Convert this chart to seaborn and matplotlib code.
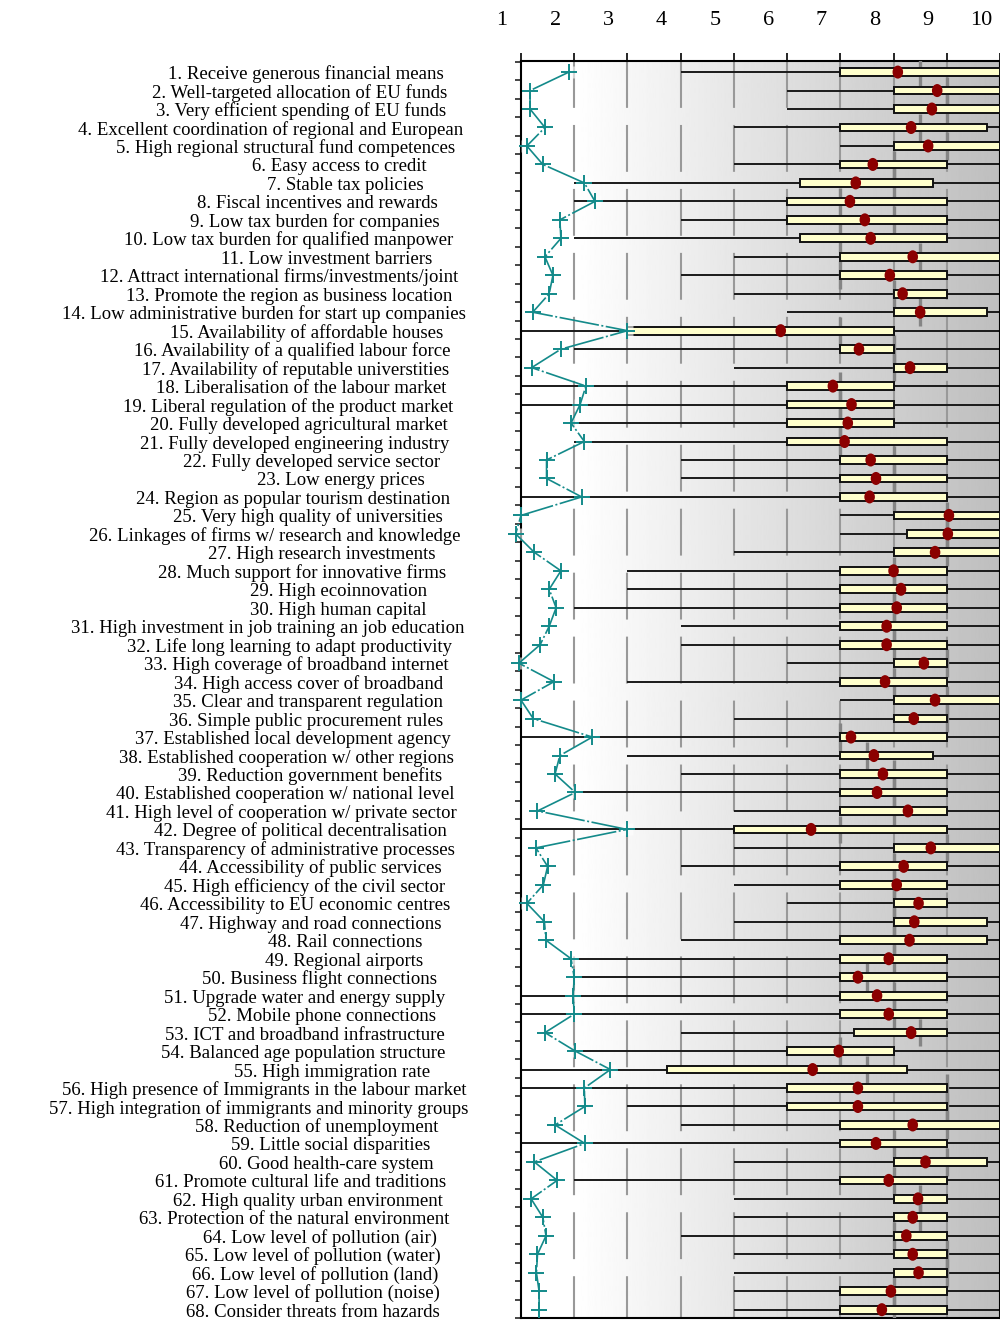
import numpy as np
import pandas as pd
import matplotlib
matplotlib.use("Agg")
import matplotlib.pyplot as plt
import matplotlib.transforms as mtransforms
from matplotlib.markers import MarkerStyle
import seaborn as sns

labels = [
    "1. Receive generous financial means",
    "2. Well-targeted allocation of EU funds",
    "3. Very efficient spending of EU funds",
    "4. Excellent coordination of regional and European",
    "5. High regional structural fund competences",
    "6. Easy access to credit",
    "7. Stable tax policies",
    "8. Fiscal incentives and rewards",
    "9. Low tax burden for companies",
    "10. Low tax burden for qualified manpower",
    "11. Low investment barriers",
    "12. Attract international firms/investments/joint",
    "13. Promote the region as business location",
    "14. Low administrative burden for start up companies",
    "15. Availability of affordable houses",
    "16. Availability of a qualified labour force",
    "17. Availability of reputable universtities",
    "18. Liberalisation of the labour market",
    "19. Liberal regulation of the product market",
    "20. Fully developed agricultural market",
    "21. Fully developed engineering industry",
    "22. Fully developed service sector",
    "23. Low energy prices",
    "24. Region as popular tourism destination",
    "25. Very high quality of universities",
    "26. Linkages of firms w/ research and knowledge",
    "27. High research investments",
    "28. Much support for innovative firms",
    "29. High ecoinnovation",
    "30. High human capital",
    "31. High investment in job training an job education",
    "32. Life long learning to adapt productivity",
    "33. High coverage of broadband internet",
    "34. High access cover of broadband",
    "35. Clear and transparent regulation",
    "36. Simple public procurement rules",
    "37. Established local development agency",
    "38. Established cooperation w/ other regions",
    "39. Reduction government benefits",
    "40. Established cooperation w/ national level",
    "41. High level of cooperation w/ private sector",
    "42. Degree of political decentralisation",
    "43. Transparency of administrative processes",
    "44. Accessibility of public services",
    "45. High efficiency of the civil sector",
    "46. Accessibility to EU economic centres",
    "47. Highway and road connections",
    "48. Rail connections",
    "49. Regional airports",
    "50. Business flight connections",
    "51. Upgrade water and energy supply",
    "52. Mobile phone connections",
    "53. ICT and broadband infrastructure",
    "54. Balanced age population structure",
    "55. High immigration rate",
    "56. High presence of Immigrants in the labour market",
    "57. High integration of immigrants and minority groups",
    "58. Reduction of unemployment",
    "59. Little social disparities",
    "60. Good health-care system",
    "61. Promote cultural life and traditions",
    "62. High quality urban environment",
    "63. Protection of the natural environment",
    "64. Low level of pollution (air)",
    "65. Low level of pollution (water)",
    "66. Low level of pollution (land)",
    "67. Low level of pollution (noise)",
    "68. Consider threats from hazards",
]

score_min = [4, 6, 6, 5, 7, 5, 2, 2, 4, 2, 5, 4, 5, 6, 1, 2, 5, 1, 1, 2,
             2, 4, 4, 1, 7, 7, 5, 3, 3, 2, 4, 4, 6, 3, 7, 5, 1, 3, 4, 2,
             5, 1, 5, 4, 5, 6, 5, 4, 2, 2, 1, 1, 4, 2, 1, 1, 3, 4, 1, 5,
             2, 5, 5, 4, 5, 5, 5, 5]
score_max = [10, 10, 10, 10, 10, 10, 10, 10, 10, 10, 10, 10, 10, 10, 10, 10, 10, 10, 10, 10,
             10, 10, 10, 10, 10, 10, 10, 10, 10, 10, 10, 10, 10, 10, 10, 10, 10, 10, 10, 10,
             10, 10, 10, 10, 10, 10, 10, 10, 10, 10, 10, 10, 10, 10, 10, 10, 10, 10, 10, 10,
             10, 10, 10, 10, 10, 10, 10, 10]
q1 = [7, 8, 8, 7, 8, 7, 6.25, 6, 6, 6.25, 7, 7, 8, 8, 3, 7, 8, 6, 6, 6,
      6, 7, 7, 7, 8, 8.25, 8, 7, 7, 7, 7, 7, 8, 7, 8, 8, 7, 7, 7, 7,
      7, 5, 8, 7, 7, 8, 8, 7, 7, 7, 7, 7, 7.25, 6, 3.75, 6, 6, 7, 7, 8,
      7, 8, 8, 8, 8, 8, 7, 7]
q3 = [10, 10, 10, 9.75, 10, 9, 8.75, 9, 9, 9, 10, 9, 9, 9.75, 8, 8, 9, 8, 8, 8,
      9, 9, 9, 9, 10, 10, 10, 9, 9, 9, 9, 9, 9, 9, 10, 9, 9, 8.75, 9, 9,
      9, 9, 10, 9, 9, 9, 9.75, 9.75, 9, 9, 9, 9, 9, 8, 8.25, 9, 9, 10, 9, 9.75,
      9, 9, 9, 9, 9, 9, 9, 9]
mean = [8.08, 8.82, 8.72, 8.33, 8.65, 7.61, 7.29, 7.18, 7.46, 7.57, 8.36, 7.93, 8.17, 8.5,
        5.88, 7.35, 8.31, 6.86, 7.21, 7.14, 7.08, 7.57, 7.67, 7.55, 9.04, 9.02, 8.78, 8.0,
        8.14, 8.06, 7.87, 7.87, 8.57, 7.84, 8.78, 8.38, 7.2, 7.63, 7.8, 7.69, 8.27, 6.45,
        8.7, 8.19, 8.06, 8.47, 8.39, 8.3, 7.91, 7.33, 7.69, 7.91, 8.33, 6.97, 6.48, 7.33,
        7.33, 8.36, 7.67, 8.6, 7.91, 8.46, 8.36, 8.24, 8.36, 8.47, 7.95, 7.78]
median = [8.5, 9, 9, 8.5, 9, 8, 8, 7, 8, 7, 8.5, 7, 8, 8.5, 7, 8, 8, 7, 7, 7,
          7, 8, 8, 8, 9, 9, 9, 8, 8, 8, 8, 8, 9, 8, 9, 9, 7, 7.5, 8, 8,
          8, 7, 9, 8, 8, 8, 8, 8, 8, 7.5, 8, 8, 8.5, 7, 7.5, 9, 9, 9, 8, 9,
          8, 8.5, 8.5, 8, 9, 9, 8, 8]
std_dev = [1.90, 1.17, 1.17, 1.45, 1.11, 1.41, 2.19, 2.39, 1.73, 1.75, 1.45, 1.60, 1.53,
           1.22, 3.0, 1.75, 1.2, 2.22, 2.11, 1.94, 2.19, 1.48, 1.48, 2.14, 1.0, 0.9, 1.25,
           1.75, 1.53, 1.66, 1.53, 1.36, 0.96, 1.62, 1.0, 1.23, 2.34, 1.73, 1.64, 2.02, 1.31,
           2.99, 1.28, 1.5, 1.42, 1.11, 1.44, 1.47, 1.94, 2.0, 1.98, 2.0, 1.45, 2.02, 2.68,
           2.19, 2.2, 1.64, 2.2, 1.25, 1.68, 1.19, 1.41, 1.47, 1.31, 1.29, 1.34, 1.34]

df = pd.DataFrame({
    "label": labels, "lo": score_min, "hi": score_max, "q1": q1, "q3": q3,
    "mean": mean, "median": median, "sd": std_dev,
})
df["row"] = np.arange(1, len(df) + 1)

sns.set_theme(style="white")
plt.rcParams["font.family"] = ["Liberation Serif", "DejaVu Serif"]

fig = plt.figure(figsize=(10, 13.2), dpi=100)
ax = fig.add_axes([0.521, 2 / 1320, 0.479, 1257 / 1320])
y_top, y_bot = 0.4, 68.45

# background: white on the left, fading to grey towards 10
xs = np.linspace(1, 10, 600)
shade = np.interp(xs, [1, 2, 10], [1.0, 1.0, 0.745])
ax.imshow(shade[None, :], extent=(1, 10, y_bot, y_top), aspect="auto",
          cmap="gray", vmin=0, vmax=1, interpolation="bilinear", zorder=0)

# dashed vertical guides
for v in range(2, 10):
    ax.plot([v, v], [y_top, y_bot], color="#999999", lw=1.5,
            ls=(0, (22.5, 8.2)), dash_capstyle="butt", zorder=1)

ax.hlines(df["row"], df["lo"], df["hi"], color="#1a1a1a", lw=1.4, zorder=2)
ax.vlines(df["median"], df["row"] - 0.75, df["row"] + 0.75, color="#858585", lw=2.4, zorder=3)
ax.barh(df["row"], df["q3"] - df["q1"], left=df["q1"], height=0.42,
        color="#ffffcc", edgecolor="#111111", linewidth=1.4, zorder=4)

dot = MarkerStyle("o", transform=mtransforms.Affine2D().scale(0.85, 1.05))
sns.scatterplot(data=df, x="mean", y="row", marker=dot, s=80, color="#8b0000",
                edgecolor="none", linewidth=0, zorder=5, ax=ax, legend=False)

# standard deviation profile
ax.plot(df["sd"], df["row"], ls="none", marker="s", ms=9, mfc="white", mec="none",
        alpha=0.6, zorder=6, clip_on=False)
ax.plot(df["sd"], df["row"], color="#138a8a", lw=1.2, ls=(0, (24, 1.5, 1.2, 1.5)),
        marker="+", ms=11, mew=1.4, zorder=7, clip_on=False)

ax.set_xlim(1, 10)
ax.set_ylim(y_bot, y_top)
ax.set_xlabel("")
ax.set_ylabel("")

ax.xaxis.tick_top()
ax.set_xticks(range(1, 11))
ax.set_xticklabels([str(v) for v in range(1, 11)])
ax.tick_params(axis="x", top=True, bottom=False, direction="out", length=6,
               width=1.2, pad=16, labelsize=16, colors="black")
shift = mtransforms.ScaledTranslation(-0.19, 0, fig.dpi_scale_trans)
for lbl in ax.get_xticklabels():
    lbl.set_transform(lbl.get_transform() + shift)

ax.set_yticks(np.arange(0, 69) + 0.45)
ax.set_yticklabels([])
ax.tick_params(axis="y", left=True, direction="out", length=4.5, width=1.2)

for side in ["left", "top", "bottom", "right"]:
    ax.spines[side].set_visible(True)
    ax.spines[side].set_color("black")
    ax.spines[side].set_linewidth(1.5)

# row labels, placed like the original layout
trans = mtransforms.blended_transform_factory(fig.transFigure, ax.transData)
texts = [ax.text(0.3, r + 0.38, lab, transform=trans, ha="center", va="baseline",
                 fontsize=13.5, color="black")
         for r, lab in zip(df["row"], df["label"])]
fig.canvas.draw()
renderer = fig.canvas.get_renderer()
widths = [t.get_window_extent(renderer).width for t in texts]
ratio = widths[0] / 316.0
for t, w in zip(texts, widths):
    w_orig = w / ratio
    t.set_x((396 - 0.285 * w_orig) / 1000)

fig.savefig("out.png", dpi=100)
